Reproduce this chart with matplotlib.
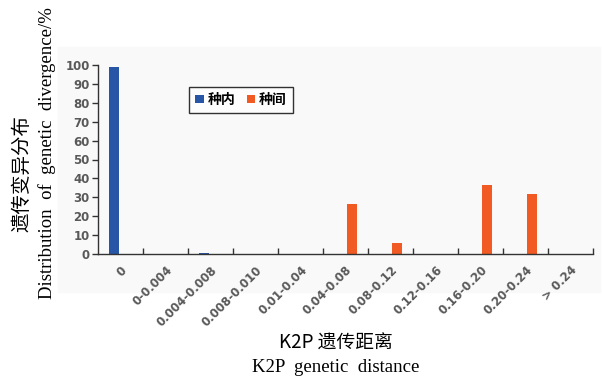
import numpy as np
import matplotlib.pyplot as plt
from matplotlib.patches import Rectangle

categories = ['0', '0-0.004', '0.004-0.008', '0.008-0.010', '0.01-0.04', '0.04-0.08',
              '0.08-0.12', '0.12-0.16', '0.16-0.20', '0.20-0.24', '> 0.24']
intra = [99, 0, 0.5, 0, 0, 0, 0, 0, 0, 0, 0]      # 种内
inter = [0, 0, 0, 0, 0, 26.3, 5.7, 0, 36.7, 31.7, 0]  # 种间
yticks = list(range(0, 101, 10))

blue = '#2756a6'
orange = '#f15a22'
grey = '#595959'

fig = plt.figure(figsize=(6.02, 3.78), dpi=100)
# light panel behind the chart
fig.patches.append(Rectangle((58 / 602, 1 - 292 / 378), 542 / 602, 245 / 378,
                             transform=fig.transFigure, color='#f9f9f9', zorder=-5))
ax = fig.add_axes([98 / 602, 1 - 254 / 378, 495 / 602, 189 / 378])
ax.set_facecolor('none')
ax.set_zorder(2)

x = np.arange(len(categories))
w = 0.22
ax.bar(x - w / 2 - 0.03, intra, w, color=blue, label='种内')
ax.bar(x + w / 2 + 0.03, inter, w, color=orange, label='种间')

ax.set_xlim(-0.5, len(categories) - 0.5)
ax.set_ylim(0, 100)
ax.set_yticks(yticks)
ax.set_yticklabels([str(v) for v in yticks], color=grey, fontsize=8.5, fontweight='bold')
ax.set_xticks(x)
ax.set_xticklabels(categories, rotation=45, ha='right', va='top', rotation_mode='anchor',
                   color=grey, fontsize=8.5, fontweight='bold')
ax.tick_params(axis='x', length=0, pad=7)
ax.set_xticks(np.arange(len(categories)) + 0.5, minor=True)
ax.tick_params(axis='x', which='minor', direction='in', length=4, width=1, color='#333333')
ax.tick_params(axis='y', length=4, width=1, color='#333333', pad=2)
for s in ['top', 'right']:
    ax.spines[s].set_visible(False)
for s in ['left', 'bottom']:
    ax.spines[s].set_color('#333333')
    ax.spines[s].set_linewidth(1)

leg = ax.legend(loc='upper left', bbox_to_anchor=(0.184, 0.885), borderaxespad=0, ncol=2,
                frameon=True, fancybox=False, edgecolor='black', handlelength=0.6,
                handleheight=0.6, handletextpad=0.3, columnspacing=0.8, borderpad=0.45,
                prop={'family': ['Noto Sans CJK SC', 'DejaVu Sans'], 'size': 10, 'weight': 'bold'})
leg.get_frame().set_linewidth(1)

fig.text(22 / 602, 1 - 173 / 378, '遗传变异分布', rotation=90, ha='center', va='center',
         fontsize=14, family=['Noto Sans CJK SC', 'DejaVu Sans'])
fig.text(47 / 602, 1 - 153 / 378, 'Distribution  of  genetic  divergence/%', rotation=90,
         ha='center', va='center', fontsize=13.5, family='Liberation Serif')
fig.text(336 / 602, 1 - 343 / 378, 'K2P 遗传距离', ha='center', va='center',
         fontsize=13.5, family=['Noto Sans CJK SC', 'DejaVu Sans'])
fig.text(336 / 602, 1 - 368 / 378, 'K2P  genetic  distance', ha='center', va='center',
         fontsize=13.5, family='Liberation Serif')

fig.savefig('out.png', dpi=100)
